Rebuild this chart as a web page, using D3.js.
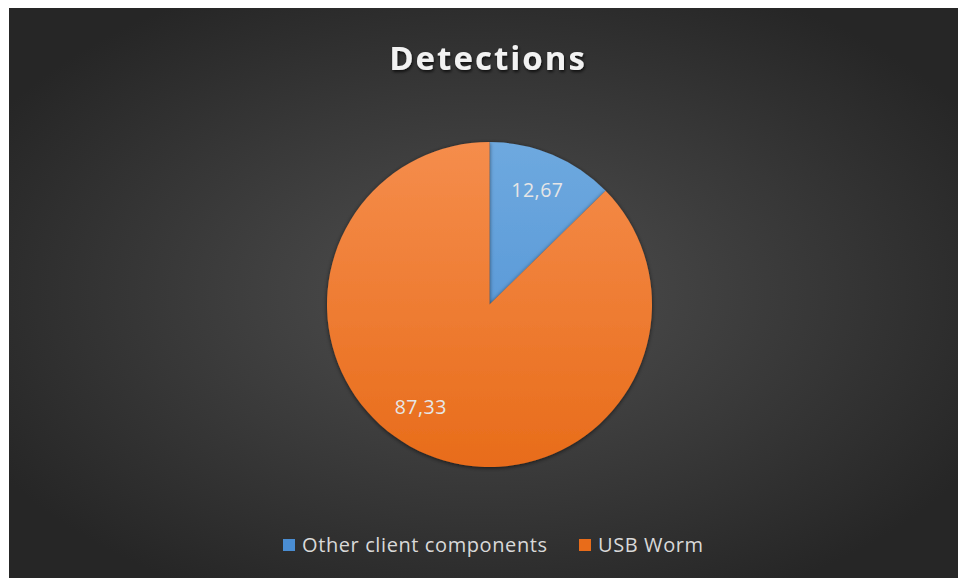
<!DOCTYPE html>
<html>
<head>
<meta charset="utf-8">
<script src="https://cdn.jsdelivr.net/npm/d3@7"></script>
<style>
html,body{margin:0;padding:0;background:#fff;}
svg{display:block;}
</style>
</head>
<body>
<svg id="chart" width="958" height="578"></svg>
<script>
const title = "Detections";
const categories = ["Other client components", "USB Worm"];
const values = [12.67, 87.33];
const labels = ["12,67", "87,33"];
const colorsTop = ["#6ea9df", "#f58d4c"];
const colorsBottom = ["#4a8dd2", "#e86c1a"];
const labelNudgeDeg = [0, 11];

const svg = d3.select("#chart");
const W = 958, H = 578;
const defs = svg.append("defs");

const bg = defs.append("radialGradient").attr("id","bg")
  .attr("cx","50%").attr("cy","50%").attr("r","60%");
bg.append("stop").attr("offset","0%").attr("stop-color","#505050");
bg.append("stop").attr("offset","100%").attr("stop-color","#262626");

categories.forEach((c,i)=>{
  const g = defs.append("linearGradient").attr("id","g"+i)
    .attr("gradientUnits","userSpaceOnUse")
    .attr("x1",0).attr("y1",-163).attr("x2",0).attr("y2",163);
  g.append("stop").attr("offset","0%").attr("stop-color",colorsTop[i]);
  g.append("stop").attr("offset","100%").attr("stop-color",colorsBottom[i]);
});

const sh = defs.append("filter").attr("id","sh").attr("x","-20%").attr("y","-20%").attr("width","140%").attr("height","140%");
sh.append("feDropShadow").attr("dx",0).attr("dy",1).attr("stdDeviation",2).attr("flood-color","#000").attr("flood-opacity",0.6);
const tsh = defs.append("filter").attr("id","tsh").attr("x","-10%").attr("y","-20%").attr("width","120%").attr("height","150%");
tsh.append("feDropShadow").attr("dx",1).attr("dy",2).attr("stdDeviation",1.5).attr("flood-color","#000").attr("flood-opacity",0.7);

svg.append("rect").attr("x",9).attr("y",8).attr("width",W-9).attr("height",H-8).attr("fill","url(#bg)");

svg.append("text").attr("x",488).attr("y",70).attr("text-anchor","middle")
  .attr("font-family","'Open Sans', sans-serif").attr("font-weight","bold").attr("font-size",33)
  .attr("fill","#f2f2f2").attr("filter","url(#tsh)").attr("letter-spacing",2).text(title);

const cx = 489.5, cy = 304.5, r = 162.5;
const pie = d3.pie().sort(null).value(d=>d);
const arcs = pie(values);
const arc = d3.arc().innerRadius(0).outerRadius(r);
const labelR = r*0.76;

const g = svg.append("g").attr("transform",`translate(${cx},${cy})`);
g.selectAll("path").data(arcs).join("path")
  .attr("d",arc).attr("fill",(d,i)=>`url(#g${i})`).attr("filter","url(#sh)");

g.selectAll("text").data(arcs).join("text")
  .attr("transform",(d,i)=>{
    const a = (d.startAngle + d.endAngle)/2 + labelNudgeDeg[i]*Math.PI/180;
    return `translate(${Math.sin(a)*labelR},${-Math.cos(a)*labelR})`;
  })
  .attr("text-anchor","middle").attr("dy","0.35em")
  .attr("font-family","'Open Sans', sans-serif").attr("font-size",19.5).attr("letter-spacing",0.5)
  .attr("fill","#e6e6e6").text((d,i)=>labels[i]);

// legend
const legend = svg.append("g");
const lx = [283, 579];
categories.forEach((c,i)=>{
  const it = legend.append("g").attr("transform",`translate(${lx[i]},545)`);
  it.append("rect").attr("x",0).attr("y",-6).attr("width",12).attr("height",12).attr("fill",colorsBottom[i]);
  it.append("text").attr("x",19).attr("y",0).attr("dy","0.35em")
    .attr("font-family","'Open Sans', sans-serif").attr("font-size",20).attr("letter-spacing",0.6)
    .attr("fill","#d9d9d9").text(c);
});
</script>
</body>
</html>
